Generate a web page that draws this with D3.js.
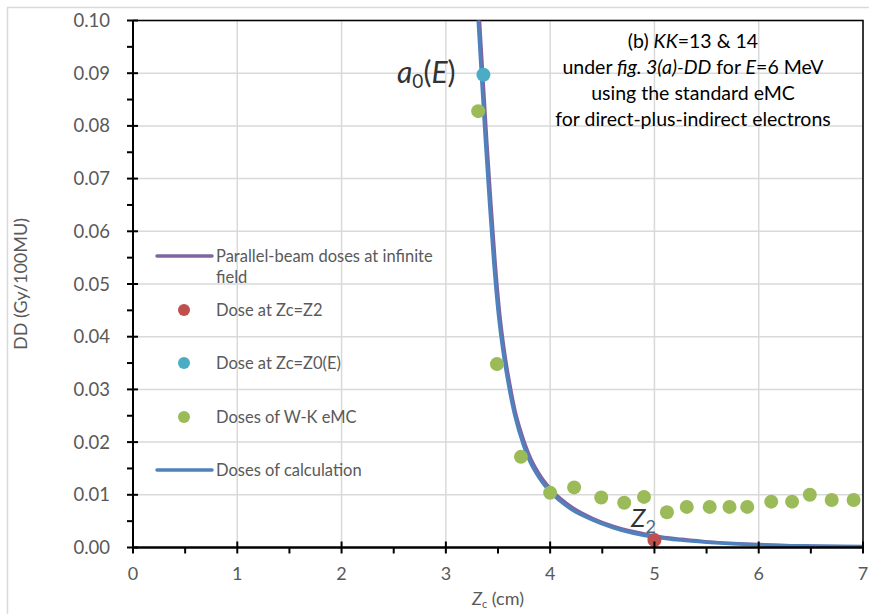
<!DOCTYPE html>
<html>
<head>
<meta charset="utf-8">
<script src="https://cdn.jsdelivr.net/npm/d3@7"></script>
<style>
  html, body { margin: 0; padding: 0; background: #fff; }
  svg { display: block; }
  text { font-family: Lato, "Open Sans", sans-serif; }
</style>
</head>
<body>
<svg id="chart" width="869" height="614"></svg>
<script>
// Depth positions (cm) and doses (Gy/100MU) for the calculated curve
const calcZ    = [3.31, 3.34, 3.38, 3.42, 3.46, 3.50, 3.55, 3.60, 3.65, 3.70, 3.80, 3.90, 4.00, 4.20, 4.40, 4.60, 4.80, 5.00, 5.25, 5.50, 5.75, 6.00, 6.50, 7.00];
const calcDose = [0.100, 0.090, 0.077, 0.065, 0.054, 0.045, 0.037, 0.031, 0.026, 0.0222, 0.0166, 0.0131, 0.0106, 0.0073, 0.0053, 0.0038, 0.0027, 0.0020, 0.0014, 0.0010, 0.0007, 0.0005, 0.0003, 0.0002];
// Parallel-beam doses at infinite field
const parZ     = [3.325, 3.355, 3.395, 3.435, 3.475, 3.515, 3.565, 3.615, 3.665, 3.715, 3.815, 3.915, 4.015, 4.215, 4.415, 4.615, 4.815, 5.015, 5.265, 5.515, 5.765, 6.015, 6.515, 7.00];
const parDose  = [0.100, 0.090, 0.077, 0.065, 0.054, 0.045, 0.037, 0.031, 0.026, 0.0224, 0.0169, 0.0134, 0.0109, 0.0076, 0.0055, 0.0040, 0.0030, 0.0022, 0.0016, 0.0011, 0.0008, 0.0006, 0.0003, 0.0002];
// Doses of W-K eMC
const wkZ      = [3.31, 3.49, 3.72, 4.00, 4.23, 4.49, 4.71, 4.90, 5.12, 5.31, 5.53, 5.72, 5.89, 6.12, 6.32, 6.49, 6.70, 6.91];
const wkDose   = [0.0828, 0.0348, 0.0172, 0.0104, 0.0114, 0.0095, 0.0085, 0.0096, 0.0067, 0.0077, 0.0077, 0.0077, 0.0077, 0.0087, 0.0087, 0.0100, 0.0090, 0.0090];
// Single doses at Zc = Z0(E) and Zc = Z2
const z0Point  = [3.36, 0.0897];
const z2Point  = [5.00, 0.0014];

const xTicks = [0, 1, 2, 3, 4, 5, 6, 7];
const yTicks = [0, 0.01, 0.02, 0.03, 0.04, 0.05, 0.06, 0.07, 0.08, 0.09, 0.10];
const xMinor = d3.range(0.5, 7, 1);
const yMinor = d3.range(0.005, 0.1, 0.01);

const annotationLines = [
  [{t: "(b) "}, {t: "KK", i: true}, {t: "=13 & 14"}],
  [{t: "under "}, {t: "fig. 3(a)-DD", i: true}, {t: " for "}, {t: "E", i: true}, {t: "=6 MeV"}],
  [{t: "using the standard eMC"}],
  [{t: "for direct-plus-indirect electrons"}]
];

const legendItems = [
  {type: "line", color: "#8064A2", label: ["Parallel-beam doses at infinite", "field"]},
  {type: "dot",  color: "#C0504D", label: ["Dose at Zc=Z2"]},
  {type: "dot",  color: "#4BACC6", label: ["Dose at Zc=Z0(E)"]},
  {type: "dot",  color: "#9BBB59", label: ["Doses of W-K eMC"]},
  {type: "line", color: "#4F81BD", label: ["Doses of calculation"]}
];

const svg = d3.select("#chart");
const W = 869, H = 614;
const plot = {left: 133, right: 863, top: 20.5, bottom: 547.5};

const x = d3.scaleLinear().domain([0, 7]).range([plot.left, plot.right]);
const y = d3.scaleLinear().domain([0, 0.1]).range([plot.bottom, plot.top]);

// Chart outer frame
svg.append("rect")
  .attr("x", 7.5).attr("y", 7.5).attr("width", W).attr("height", H)
  .attr("fill", "#fff").attr("stroke", "#D9D9D9").attr("stroke-width", 1.5);

// Gridlines
const grid = svg.append("g").attr("stroke", "#D9D9D9").attr("stroke-width", 1.5);
grid.selectAll(".gy").data(yTicks.slice(1)).join("line")
  .attr("x1", plot.left).attr("x2", plot.right)
  .attr("y1", d => y(d)).attr("y2", d => y(d));
grid.selectAll(".gx").data(xTicks.slice(1)).join("line")
  .attr("y1", plot.top).attr("y2", plot.bottom)
  .attr("x1", d => x(d)).attr("x2", d => x(d));

// Plot-area border (top and right)
svg.append("path")
  .attr("d", `M${plot.left},${plot.top}H${plot.right}V${plot.bottom}`)
  .attr("fill", "none").attr("stroke", "#000").attr("stroke-width", 1.5);

// Legend
const legend = svg.append("g");
const legendY = [256, 310, 363, 417, 470];
legendItems.forEach((item, i) => {
  const ly = legendY[i];
  if (item.type === "line") {
    legend.append("line").attr("x1", 157).attr("x2", 212).attr("y1", ly).attr("y2", ly)
      .attr("stroke", item.color).attr("stroke-width", 3.5).attr("stroke-linecap", "round");
  } else {
    legend.append("circle").attr("cx", 184).attr("cy", ly).attr("r", 6).attr("fill", item.color);
  }
  item.label.forEach((s, k) => {
    legend.append("text").attr("x", 216).attr("y", ly + 6 + k * 21)
      .attr("font-size", 16.5).attr("fill", "#595959").text(s);
  });
});

// Curves
const line = d3.line().x(d => x(d[0])).y(d => y(d[1])).curve(d3.curveMonotoneX);
svg.append("clipPath").attr("id", "plotclip")
  .append("rect").attr("x", plot.left).attr("y", plot.top - 1)
  .attr("width", plot.right - plot.left + 1).attr("height", plot.bottom - plot.top + 2);

svg.append("path").datum(d3.zip(parZ, parDose)).attr("d", line)
  .attr("clip-path", "url(#plotclip)")
  .attr("fill", "none").attr("stroke", "#8064A2").attr("stroke-width", 3);
svg.append("path").datum(d3.zip(calcZ, calcDose)).attr("d", line)
  .attr("clip-path", "url(#plotclip)")
  .attr("fill", "none").attr("stroke", "#4F81BD").attr("stroke-width", 3.5);

// Points
svg.append("g").selectAll("circle").data(d3.zip(wkZ, wkDose)).join("circle")
  .attr("cx", d => x(d[0])).attr("cy", d => y(d[1])).attr("r", 7).attr("fill", "#9BBB59");
svg.append("circle").attr("cx", x(z0Point[0])).attr("cy", y(z0Point[1])).attr("r", 7).attr("fill", "#4BACC6");
svg.append("circle").attr("cx", x(z2Point[0])).attr("cy", y(z2Point[1])).attr("r", 7).attr("fill", "#C0504D");

// Axes
const yAxis = svg.append("g").attr("transform", `translate(${plot.left},0)`);
yAxis.append("line").attr("x1", 0).attr("x2", 0).attr("y1", plot.top).attr("y2", plot.bottom)
  .attr("stroke", "#000").attr("stroke-width", 2);
yAxis.selectAll(".maj").data(yTicks).join("line")
  .attr("x1", -6).attr("x2", 5).attr("y1", d => y(d)).attr("y2", d => y(d))
  .attr("stroke", "#000").attr("stroke-width", 2);
yAxis.selectAll(".min").data(yMinor).join("line")
  .attr("x1", -6).attr("x2", 0).attr("y1", d => y(d)).attr("y2", d => y(d))
  .attr("stroke", "#000").attr("stroke-width", 2);
yAxis.selectAll("text").data(yTicks).join("text")
  .attr("x", -23).attr("y", d => y(d) + 6.5).attr("text-anchor", "end")
  .attr("font-size", 18.5).attr("fill", "#595959").text(d => d3.format(".2f")(d));

const xAxis = svg.append("g").attr("transform", `translate(0,${plot.bottom})`);
xAxis.append("line").attr("x1", plot.left).attr("x2", plot.right).attr("y1", 0).attr("y2", 0)
  .attr("stroke", "#000").attr("stroke-width", 2.5);
xAxis.selectAll(".maj").data(xTicks).join("line")
  .attr("x1", d => x(d)).attr("x2", d => x(d)).attr("y1", -6).attr("y2", 6)
  .attr("stroke", "#000").attr("stroke-width", 2);
xAxis.selectAll(".min").data(xMinor).join("line")
  .attr("x1", d => x(d)).attr("x2", d => x(d)).attr("y1", 0).attr("y2", 6)
  .attr("stroke", "#000").attr("stroke-width", 2);
xAxis.selectAll("text").data(xTicks).join("text")
  .attr("x", d => x(d)).attr("y", 32).attr("text-anchor", "middle")
  .attr("font-size", 18).attr("fill", "#595959").text(d => d);

// Axis titles
const xt = svg.append("text").attr("x", x(3.5)).attr("y", 605).attr("text-anchor", "middle")
  .attr("font-size", 18).attr("fill", "#595959");
xt.append("tspan").attr("font-style", "italic").text("Z");
xt.append("tspan").attr("font-size", 11).attr("dy", 3).text("c");
xt.append("tspan").attr("dy", -3).text(" (cm)");

svg.append("text").attr("transform", `translate(27,${(plot.top + plot.bottom) / 2}) rotate(-90)`)
  .attr("text-anchor", "middle").attr("font-size", 18).attr("fill", "#595959")
  .text("DD (Gy/100MU)");

// Annotation block
annotationLines.forEach((parts, i) => {
  const t = svg.append("text").attr("x", 693).attr("y", 48 + i * 26)
    .attr("text-anchor", "middle").attr("font-size", 19.5).attr("fill", "#000");
  parts.forEach(p => {
    const s = t.append("tspan").text(p.t);
    if (p.i) s.attr("font-style", "italic");
  });
});

// Math labels a0(E) and Z2
const a0 = svg.append("text").attr("x", 397).attr("y", 83)
  .attr("font-family", "'DejaVu Serif', 'Liberation Serif', serif").attr("font-size", 30).attr("fill", "#333");
a0.append("tspan").attr("font-style", "italic").text("a");
a0.append("tspan").attr("font-size", 19).attr("dy", 5).text("0");
a0.append("tspan").attr("dy", -5).text("(");
a0.append("tspan").attr("font-style", "italic").text("E");
a0.append("tspan").text(")");

const z2 = svg.append("text").attr("x", 631).attr("y", 527)
  .attr("font-family", "'DejaVu Serif', 'Liberation Serif', serif").attr("font-size", 26).attr("fill", "#333");
z2.append("tspan").attr("font-style", "italic").text("Z");
z2.append("tspan").attr("font-size", 18).attr("dy", 6).attr("fill", "#4a6a8a").text("2");
</script>
</body>
</html>
